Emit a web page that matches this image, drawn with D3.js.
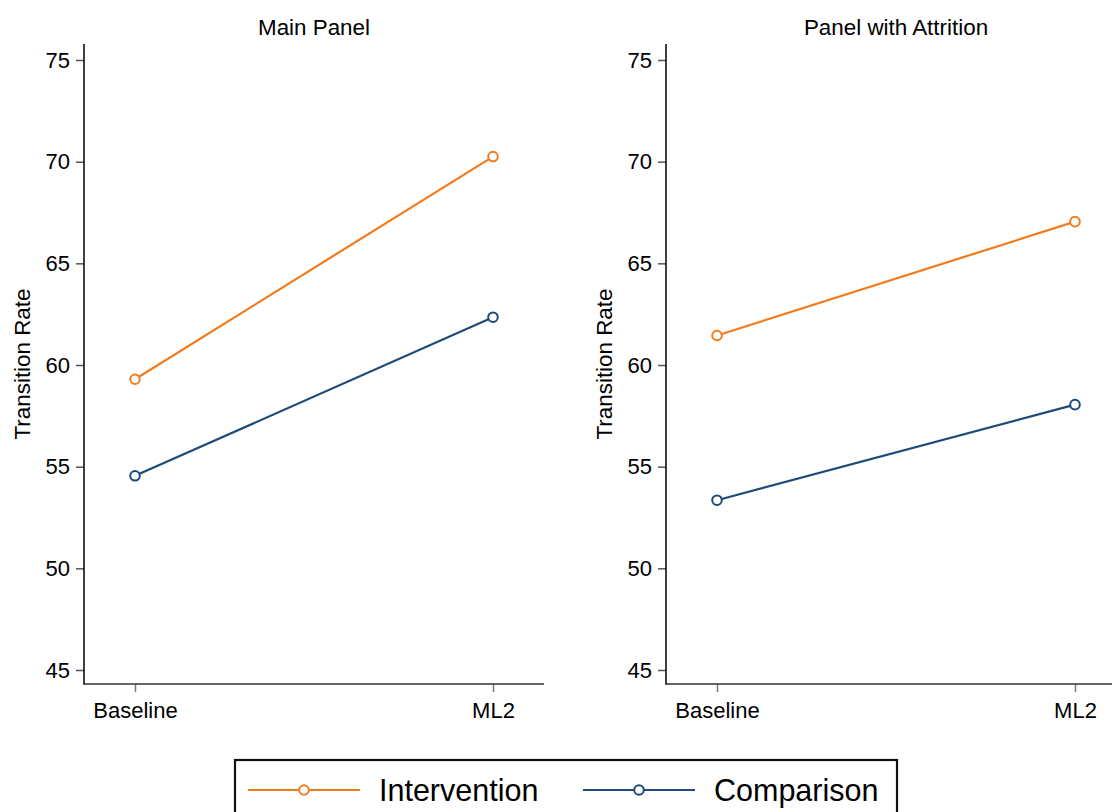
<!DOCTYPE html>
<html>
<head>
<meta charset="utf-8">
<script src="https://cdn.jsdelivr.net/npm/d3@7"></script>
<style>
  html, body { margin: 0; padding: 0; background: #fff; }
  svg { display: block; font-family: "Liberation Sans", Arial, sans-serif; }
</style>
</head>
<body>
<svg id="chart" width="1112" height="812"></svg>
<script>
// Transition rates at two time points, by group
const periods = ["Baseline", "ML2"];
const panelTitles = ["Main Panel", "Panel with Attrition"];
const seriesNames = ["Intervention", "Comparison"];
const interventionMain = [59.3, 70.25];
const comparisonMain = [54.55, 62.35];
const interventionAttrition = [61.45, 67.05];
const comparisonAttrition = [53.35, 58.05];
const yTicks = [45, 50, 55, 60, 65, 70, 75];
const yLabel = "Transition Rate";

const colors = { Intervention: "#f47b1c", Comparison: "#1d4a78" };

const panels = [
  { title: panelTitles[0], left: 84, series: [
      { name: seriesNames[0], values: interventionMain },
      { name: seriesNames[1], values: comparisonMain } ] },
  { title: panelTitles[1], left: 666, series: [
      { name: seriesNames[0], values: interventionAttrition },
      { name: seriesNames[1], values: comparisonAttrition } ] }
];

const svg = d3.select("#chart");
const plotW = 460, plotTop = 44, plotBottom = 684;

const y = d3.scaleLinear().domain([45, 75]).range([670, 60]);
const x = d3.scalePoint().domain(periods).range([51, 409]);

panels.forEach(p => {
  const g = svg.append("g").attr("transform", `translate(${p.left},0)`);

  // title
  g.append("text")
    .attr("x", plotW / 2).attr("y", 35)
    .attr("text-anchor", "middle")
    .attr("font-size", 22.4).attr("fill", "#000")
    .text(p.title);

  // y axis
  const yAxis = g.append("g")
    .call(d3.axisLeft(y).tickValues(yTicks).tickSize(8).tickSizeOuter(0).tickPadding(6));
  yAxis.select(".domain").remove();
  yAxis.selectAll(".tick line").attr("stroke", "#555").attr("stroke-width", 1.5);
  yAxis.selectAll(".tick text").attr("font-size", 22).attr("fill", "#000")
    .attr("font-family", "Liberation Sans, Arial, sans-serif");
  g.append("line")
    .attr("x1", 0).attr("x2", 0).attr("y1", plotTop).attr("y2", plotBottom + 0.75)
    .attr("stroke", "#000").attr("stroke-width", 1.5);

  // x axis
  const xAxis = g.append("g").attr("transform", `translate(0,${plotBottom})`)
    .call(d3.axisBottom(x).tickSize(8).tickSizeOuter(0).tickPadding(10));
  xAxis.select(".domain").remove();
  xAxis.selectAll(".tick line").attr("stroke", "#777").attr("stroke-width", 1.5);
  xAxis.selectAll(".tick text").attr("font-size", 22).attr("fill", "#000")
    .attr("font-family", "Liberation Sans, Arial, sans-serif");
  g.append("line")
    .attr("x1", 0).attr("x2", plotW).attr("y1", plotBottom).attr("y2", plotBottom)
    .attr("stroke", "#333").attr("stroke-width", 1.5);

  // y axis title
  g.append("text")
    .attr("transform", `translate(-62,${(plotTop + plotBottom) / 2}) rotate(-90)`)
    .attr("text-anchor", "middle")
    .attr("dominant-baseline", "central")
    .attr("font-size", 22.4).attr("fill", "#000")
    .text(yLabel);

  // series lines and markers
  const line = d3.line().x((d, i) => x(periods[i])).y(d => y(d));
  p.series.forEach(s => {
    g.append("path")
      .datum(s.values)
      .attr("d", line)
      .attr("fill", "none")
      .attr("stroke", colors[s.name])
      .attr("stroke-width", 2.2);
    g.selectAll(null)
      .data(s.values)
      .enter().append("circle")
      .attr("cx", (d, i) => x(periods[i]))
      .attr("cy", d => y(d))
      .attr("r", 4.8)
      .attr("fill", "#fff")
      .attr("stroke", colors[s.name])
      .attr("stroke-width", 2);
  });
});

// legend
const legend = svg.append("g");
legend.append("rect")
  .attr("x", 235).attr("y", 760).attr("width", 662).attr("height", 70)
  .attr("fill", "#fff").attr("stroke", "#111").attr("stroke-width", 2.2);

const legendItems = [
  { name: seriesNames[0], x0: 248 },
  { name: seriesNames[1], x0: 583 }
];
legendItems.forEach(it => {
  const ly = 790;
  legend.append("line")
    .attr("x1", it.x0).attr("x2", it.x0 + 112).attr("y1", ly).attr("y2", ly)
    .attr("stroke", colors[it.name]).attr("stroke-width", 2.2);
  legend.append("circle")
    .attr("cx", it.x0 + 56).attr("cy", ly).attr("r", 4.8)
    .attr("fill", "#fff").attr("stroke", colors[it.name]).attr("stroke-width", 2);
  legend.append("text")
    .attr("x", it.x0 + 131).attr("y", ly)
    .attr("dominant-baseline", "central")
    .attr("font-size", 30.5).attr("fill", "#000")
    .text(it.name);
});
</script>
</body>
</html>
